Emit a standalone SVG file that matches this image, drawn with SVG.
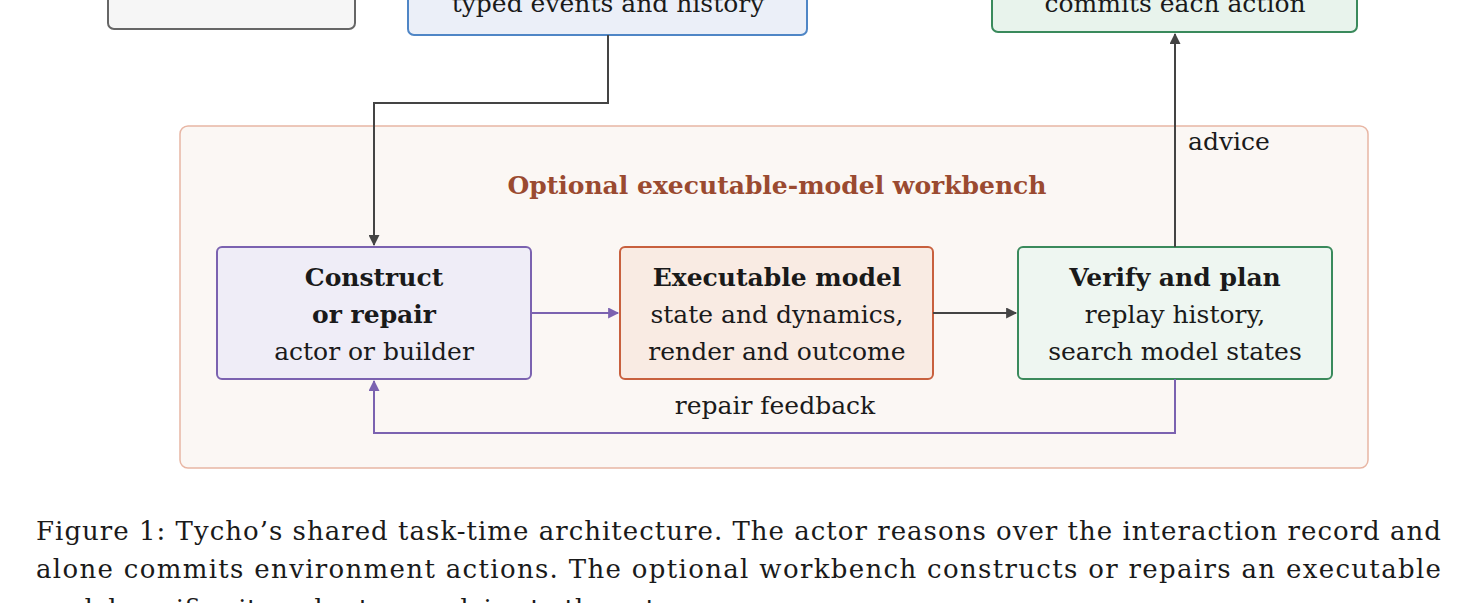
<svg xmlns="http://www.w3.org/2000/svg" width="1477" height="603" viewBox="0 0 1477 603">
<style>
text{font-family:"DejaVu Serif","Liberation Serif",serif;font-size:25px;fill:#1a1a1a;text-anchor:middle}
.b{font-weight:bold}
.cap{text-anchor:start;font-size:26px}
.box{stroke-width:2}
.ln{fill:none;stroke-width:2}
</style>
<defs>
<marker id="ag" viewBox="0 0 10 10" refX="9" refY="5" markerWidth="13" markerHeight="11" markerUnits="userSpaceOnUse" orient="auto"><path d="M0,0L10,5L0,10z" fill="#444"/></marker>
<marker id="ap" viewBox="0 0 10 10" refX="9" refY="5" markerWidth="13" markerHeight="11" markerUnits="userSpaceOnUse" orient="auto"><path d="M0,0L10,5L0,10z" fill="#7b62b0"/></marker>
</defs>
<rect width="1477" height="603" fill="#fff"/>
<g id="env"><rect class="box" x="108" y="-60" width="247" height="89" rx="6" fill="#f6f6f6" stroke="#666"/></g>
<g id="record"><rect class="box" x="408" y="-60" width="399" height="95" rx="6" fill="#ebeff8" stroke="#4f86c6"/><text x="608" y="12">typed events and history</text></g>
<g id="actor"><rect class="box" x="992" y="-60" width="365" height="92" rx="6" fill="#e8f3ec" stroke="#3a8a5c"/><text x="1175" y="12">commits each action</text></g>
<g id="workbench"><rect x="180" y="126" width="1188" height="342" rx="8" fill="#fbf7f4" stroke="#e8b6a4" stroke-width="1.5"/><text class="b" x="777" y="194" style="fill:#9a4a30">Optional executable-model workbench</text></g>
<g id="construct"><rect class="box" x="217" y="247" width="314" height="132" rx="5" fill="#efedf7" stroke="#7b62b0"/><text class="b" x="374" y="286">Construct</text><text class="b" x="374" y="323">or repair</text><text x="374" y="360">actor or builder</text></g>
<g id="model"><rect class="box" x="620" y="247" width="313" height="132" rx="5" fill="#f9ebe3" stroke="#c8603e"/><text class="b" x="777" y="286">Executable model</text><text x="777" y="323">state and dynamics,</text><text x="777" y="360">render and outcome</text></g>
<g id="verify"><rect class="box" x="1018" y="247" width="314" height="132" rx="5" fill="#eef6f1" stroke="#3a8a5c"/><text class="b" x="1175" y="286">Verify and plan</text><text x="1175" y="323">replay history,</text><text x="1175" y="360">search model states</text></g>
<g id="connectors">
<path class="ln" d="M608,35V103H374V245" stroke="#444" marker-end="url(#ag)"/>
<path class="ln" d="M531,313H618" stroke="#7b62b0" marker-end="url(#ap)"/>
<path class="ln" d="M933,313H1016" stroke="#444" marker-end="url(#ag)"/>
<path class="ln" d="M1175,247V34" stroke="#444" marker-end="url(#ag)"/>
<path class="ln" d="M1175,379V433H374V381" stroke="#7b62b0" marker-end="url(#ap)"/>
<text x="1229" y="150">advice</text>
<text x="775" y="414">repair feedback</text>
</g>
<g id="caption">
<text class="cap" x="36" y="540" textLength="1405" lengthAdjust="spacing">Figure 1: Tycho’s shared task-time architecture. The actor reasons over the interaction record and</text>
<text class="cap" x="36" y="578" textLength="1405" lengthAdjust="spacing">alone commits environment actions. The optional workbench constructs or repairs an executable</text>
<text class="cap" x="36" y="618">model, verifies it, and returns advice to the actor.</text>
</g>
</svg>
